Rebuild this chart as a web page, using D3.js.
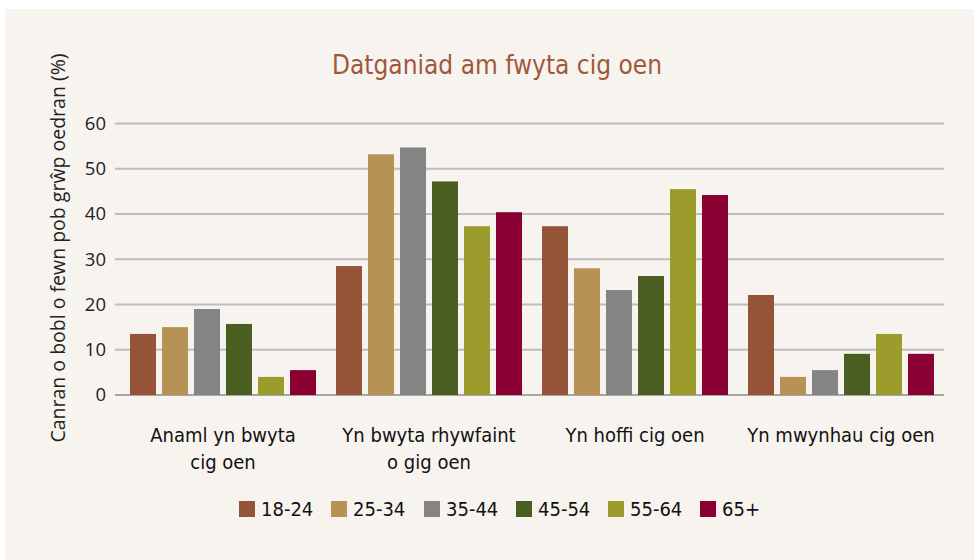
<!DOCTYPE html>
<html>
<head>
<meta charset="utf-8">
<script src="https://cdn.jsdelivr.net/npm/d3@7"></script>
<style>
  body { margin: 0; background: #fff; }
  svg { display: block; }
</style>
</head>
<body>
<svg id="chart"></svg>
<script>
// data
const categories = [["Anaml yn bwyta", "cig oen"], ["Yn bwyta rhywfaint", "o gig oen"], ["Yn hoffi cig oen"], ["Yn mwynhau cig oen"]];
const ageGroups = ["18-24", "25-34", "35-44", "45-54", "55-64", "65+"];
const values18_24 = [13.5, 28.5, 37.3, 22.1];
const values25_34 = [15.0, 53.2, 28.0, 4.0];
const values35_44 = [19.0, 54.7, 23.2, 5.5];
const values45_54 = [15.7, 47.2, 26.3, 9.1];
const values55_64 = [4.0, 37.3, 45.5, 13.5];
const values65 = [5.5, 40.4, 44.2, 9.1];
const yTicks = [0, 10, 20, 30, 40, 50, 60];
const colors = ["#955438", "#b69255", "#848484", "#4b5e21", "#9c9c2c", "#8b0033"];

const series = [values18_24, values25_34, values35_44, values45_54, values55_64, values65];

const width = 974, height = 560;
const svg = d3.select("#chart").attr("width", width).attr("height", height);

// panel
svg.append("rect")
  .attr("x", 5).attr("y", 9)
  .attr("width", width - 5).attr("height", height - 9)
  .attr("fill", "#f7f4ef");

const narrow = "'Liberation Sans Narrow', 'DejaVu Sans Condensed', sans-serif";

// title
svg.append("text")
  .attr("x", 497).attr("y", 74)
  .attr("text-anchor", "middle")
  .attr("font-family", narrow)
  .attr("font-size", 26)
  .attr("fill", "#a0583a")
  .text("Datganiad am fwyta cig oen");

// scales
const x0 = d3.scaleBand()
  .domain(d3.range(categories.length))
  .range([120, 944]);

const x1 = d3.scaleBand()
  .domain(ageGroups)
  .range([10, 196])
  .paddingInner(0.1875);

const y = d3.scaleLinear()
  .domain([0, 60])
  .range([395, 123.5]);

// gridlines
svg.append("g")
  .selectAll("line")
  .data(yTicks)
  .join("line")
  .attr("x1", 115).attr("x2", 944)
  .attr("y1", d => y(d)).attr("y2", d => y(d))
  .attr("stroke", d => d === 0 ? "#a6a6a6" : "#bdbdbd")
  .attr("stroke-width", 2);

// y axis
const yAxis = svg.append("g")
  .attr("transform", "translate(115,0)")
  .call(d3.axisLeft(y).tickValues(yTicks).tickSize(0).tickPadding(9));
yAxis.select(".domain").remove();
yAxis.selectAll("text")
  .attr("font-family", "'Open Sans', sans-serif")
  .attr("font-size", 18.5)
  .attr("fill", "#222");

// y title
svg.append("text")
  .attr("transform", "translate(65,248) rotate(-90)")
  .attr("text-anchor", "middle")
  .attr("font-family", "'Open Sans', sans-serif")
  .attr("font-size", 19.5)
  .attr("fill", "#222")
  .text("Canran o bobl o fewn pob grŵp oedran (%)");

// bars
const groups = svg.append("g")
  .selectAll("g")
  .data(categories.map((c, i) => i))
  .join("g")
  .attr("transform", i => `translate(${x0(i)},0)`);

groups.selectAll("rect")
  .data(i => series.map((s, k) => ({ age: ageGroups[k], value: s[i], color: colors[k] })))
  .join("rect")
  .attr("x", d => x1(d.age))
  .attr("width", x1.bandwidth())
  .attr("y", d => y(d.value))
  .attr("height", d => y(0) - y(d.value))
  .attr("fill", d => d.color);

// x labels
const labels = svg.append("g")
  .selectAll("text")
  .data(categories)
  .join("text")
  .attr("x", (d, i) => x0(i) + 103)
  .attr("y", 442)
  .attr("text-anchor", "middle")
  .attr("font-family", narrow)
  .attr("font-size", 20)
  .attr("fill", "#111");
labels.selectAll("tspan")
  .data(d => d)
  .join("tspan")
  .attr("x", function () { return this.parentNode.getAttribute("x"); })
  .attr("dy", (d, i) => i === 0 ? 0 : 27)
  .text(d => d);

// legend
const legendX = [239, 331, 424, 516, 608, 700];
const legend = svg.append("g")
  .selectAll("g")
  .data(ageGroups)
  .join("g")
  .attr("transform", (d, i) => `translate(${legendX[i]},501)`);
legend.append("rect")
  .attr("width", 16).attr("height", 16)
  .attr("fill", (d, i) => colors[i]);
legend.append("text")
  .attr("x", 22).attr("y", 15)
  .attr("font-family", narrow)
  .attr("font-size", 20)
  .attr("fill", "#111")
  .text(d => d);
</script>
</body>
</html>
